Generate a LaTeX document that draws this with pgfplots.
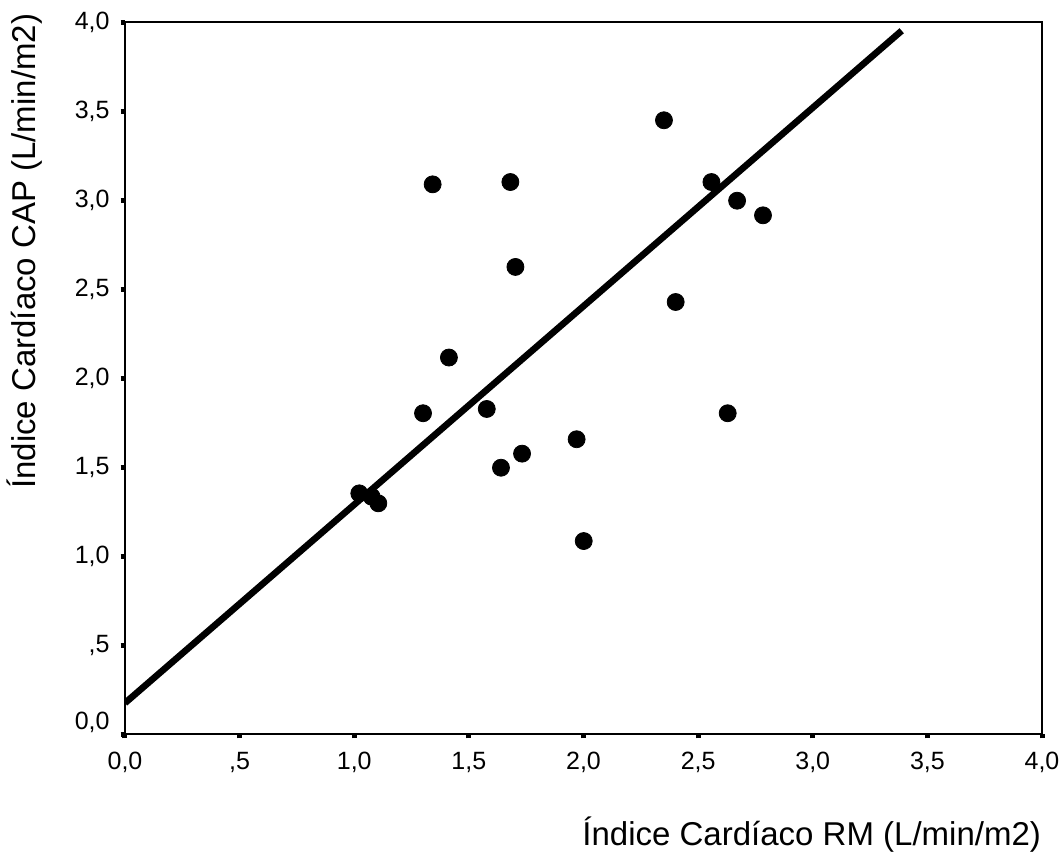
\documentclass[border=0pt]{standalone}
\usepackage{fontspec}
\setmainfont{Liberation Sans}
\usepackage{pgfplots}
\pgfplotsset{compat=1.18}
\newcommand{\zz}{0,0}
\begin{document}
\begin{tikzpicture}
\begin{axis}[
  scale only axis, width=458.5bp, height=356bp,
  xmin=0, xmax=4, ymin=0, ymax=4,
  axis line style={line width=1bp, black},
  tick align=outside, major tick length=2.2bp,
  every tick/.style={line width=2.5bp, black},
  xtick pos=bottom, ytick pos=left,
  xtick={0,0.5,1,1.5,2,2.5,3,3.5,4},
  xticklabels={{0,0},{,5},{1,0},{1,5},{2,0},{2,5},{3,0},{3,5},{4,0}},
  ytick={0.5,1,1.5,2,2.5,3,3.5,4},
  yticklabels={{,5},{1,0},{1,5},{2,0},{2,5},{3,0},{3,5},{4,0}},
  extra y ticks={0}, extra y tick labels={\zz},
  extra y tick style={yticklabel style={yshift=6bp}},
  xticklabel style={yshift=-3.2bp, font=\fontsize{12.5bp}{14bp}\selectfont},
  yticklabel style={xshift=-2bp, font=\fontsize{12.5bp}{14bp}\selectfont},
  xlabel={Índice Cardíaco RM (L/min/m2)},
  xlabel style={at={(axis description cs:1.0065,-0.1419)}, anchor=east, font=\fontsize{16.5bp}{19bp}\selectfont},
  ylabel={Índice Cardíaco CAP (L/min/m2)},
  ylabel style={at={(axis description cs:-0.109,0.678)}, anchor=center, font=\fontsize{16.5bp}{19bp}\selectfont},
]
\addplot[only marks, mark=*, mark size=4.25bp, black] coordinates {
(1.022,1.352) (1.076,1.333) (1.105,1.296) (1.300,1.802) (1.342,3.088)
(1.413,2.115) (1.578,1.826) (1.640,1.496) (1.681,3.101) (1.703,2.624)
(1.732,1.575) (1.970,1.656) (2.001,1.084) (2.351,3.448) (2.402,2.427)
(2.558,3.101) (2.629,1.802) (2.670,2.996) (2.783,2.914)
};
\addplot[black, line width=3.3bp, no markers] coordinates {(0,0.174) (3.388,3.951)};
\end{axis}
\pgfresetboundingbox
\path (-62.5bp,-63bp) rectangle (469bp,367bp);
\end{tikzpicture}
\end{document}
